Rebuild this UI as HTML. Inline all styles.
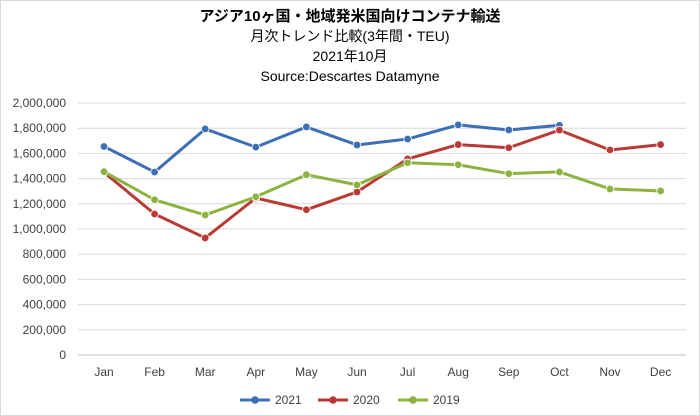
<!DOCTYPE html>
<html><head><meta charset="utf-8"><style>
body{margin:0;background:#fff;}
svg{display:block;font-family:"Liberation Sans","Noto Sans CJK JP",sans-serif;}
</style></head><body>
<svg id="c" width="700" height="416" viewBox="0 0 700 416">
<rect x="0.5" y="0.5" width="699" height="415" fill="#fff" stroke="#d9d9d9"/>
<g text-anchor="middle" fill="#000">
<text x="350" y="21" font-size="15" font-weight="bold">アジア10ヶ国・地域発米国向けコンテナ輸送</text>
<text x="350" y="41" font-size="14">月次トレンド比較(3年間・TEU)</text>
<text x="350" y="61" font-size="14">2021年10月</text>
<text x="350" y="81" font-size="14">Source:Descartes Datamyne</text>
</g>
<g id="grid"></g>
<g id="yax"></g>
<g id="xax"></g>
<g id="series"></g>
<g id="legend"></g>
</svg>
<script>
const categories=["Jan","Feb","Mar","Apr","May","Jun","Jul","Aug","Sep","Oct","Nov","Dec"];
const s2021=[1655000,1452000,1794000,1650000,1810000,1667000,1714000,1826000,1786000,1823000,null,null];
const s2020=[1450000,1119000,929000,1246000,1153000,1294000,1556000,1670000,1645000,1785000,1627000,1670000];
const s2019=[1455000,1232000,1111000,1256000,1431000,1350000,1526000,1510000,1439000,1453000,1318000,1302000];
const seriesNames=["2021","2020","2019"];
const yTicks=[0,200000,400000,600000,800000,1000000,1200000,1400000,1600000,1800000,2000000];
const NS="http://www.w3.org/2000/svg";
const colors=["#3d6fb6","#b93a34","#8cb33f"];
const X0=104,DX=50.6,Y0=355,YH=252,YMAX=2000000;
const xs=i=>X0+i*DX;
const ys=v=>Y0-v/YMAX*YH;
function mk(tag,attrs,parent){const e=document.createElementNS(NS,tag);for(const k in attrs)e.setAttribute(k,attrs[k]);parent.appendChild(e);return e;}
const grid=document.getElementById('grid'),yax=document.getElementById('yax'),xax=document.getElementById('xax'),ser=document.getElementById('series'),leg=document.getElementById('legend');
yTicks.forEach(t=>{
 const l=mk('line',{x1:78,x2:686,y1:ys(t),y2:ys(t),stroke:t===0?'#bfbfbf':'#d9d9d9','stroke-width':1},grid);
 
 
 const tx=mk('text',{x:66,y:ys(t)+4,'text-anchor':'end','font-size':12,fill:'#404040'},yax);
 tx.textContent=t.toLocaleString('en-US');
 
 
});
categories.forEach((c,i)=>{
 const tx=mk('text',{x:xs(i),y:376,'text-anchor':'middle','font-size':12,fill:'#404040'},xax);
 tx.textContent=c;
 
 
});
[s2021,s2020,s2019].forEach((arr,si)=>{
 const g=mk('g',{},ser);
 
 
 let d='';arr.forEach((v,i)=>{if(v==null)return;d+=(d?'L':'M')+xs(i)+','+ys(v);});
 const p=mk('path',{d:d,fill:'none',stroke:colors[si],'stroke-width':3,'stroke-linejoin':'round'},g);
 
 
 arr.forEach((v,i)=>{if(v==null)return;
  const c=mk('circle',{cx:xs(i),cy:ys(v),r:3.8,fill:colors[si],stroke:'#fff','stroke-width':0.8},g);
  
  
 });
});
const lx=[240,318,398];
seriesNames.forEach((n,i)=>{
 const g=mk('g',{},leg);
 
 
 mk('line',{x1:lx[i],x2:lx[i]+30,y1:400,y2:400,stroke:colors[i],'stroke-width':3},g);
 mk('circle',{cx:lx[i]+15,cy:400,r:3.8,fill:colors[i]},g);
 const t=mk('text',{x:lx[i]+35,y:404,'font-size':12,fill:'#404040'},g);
 t.textContent=n;
});
</script>
</body></html>
